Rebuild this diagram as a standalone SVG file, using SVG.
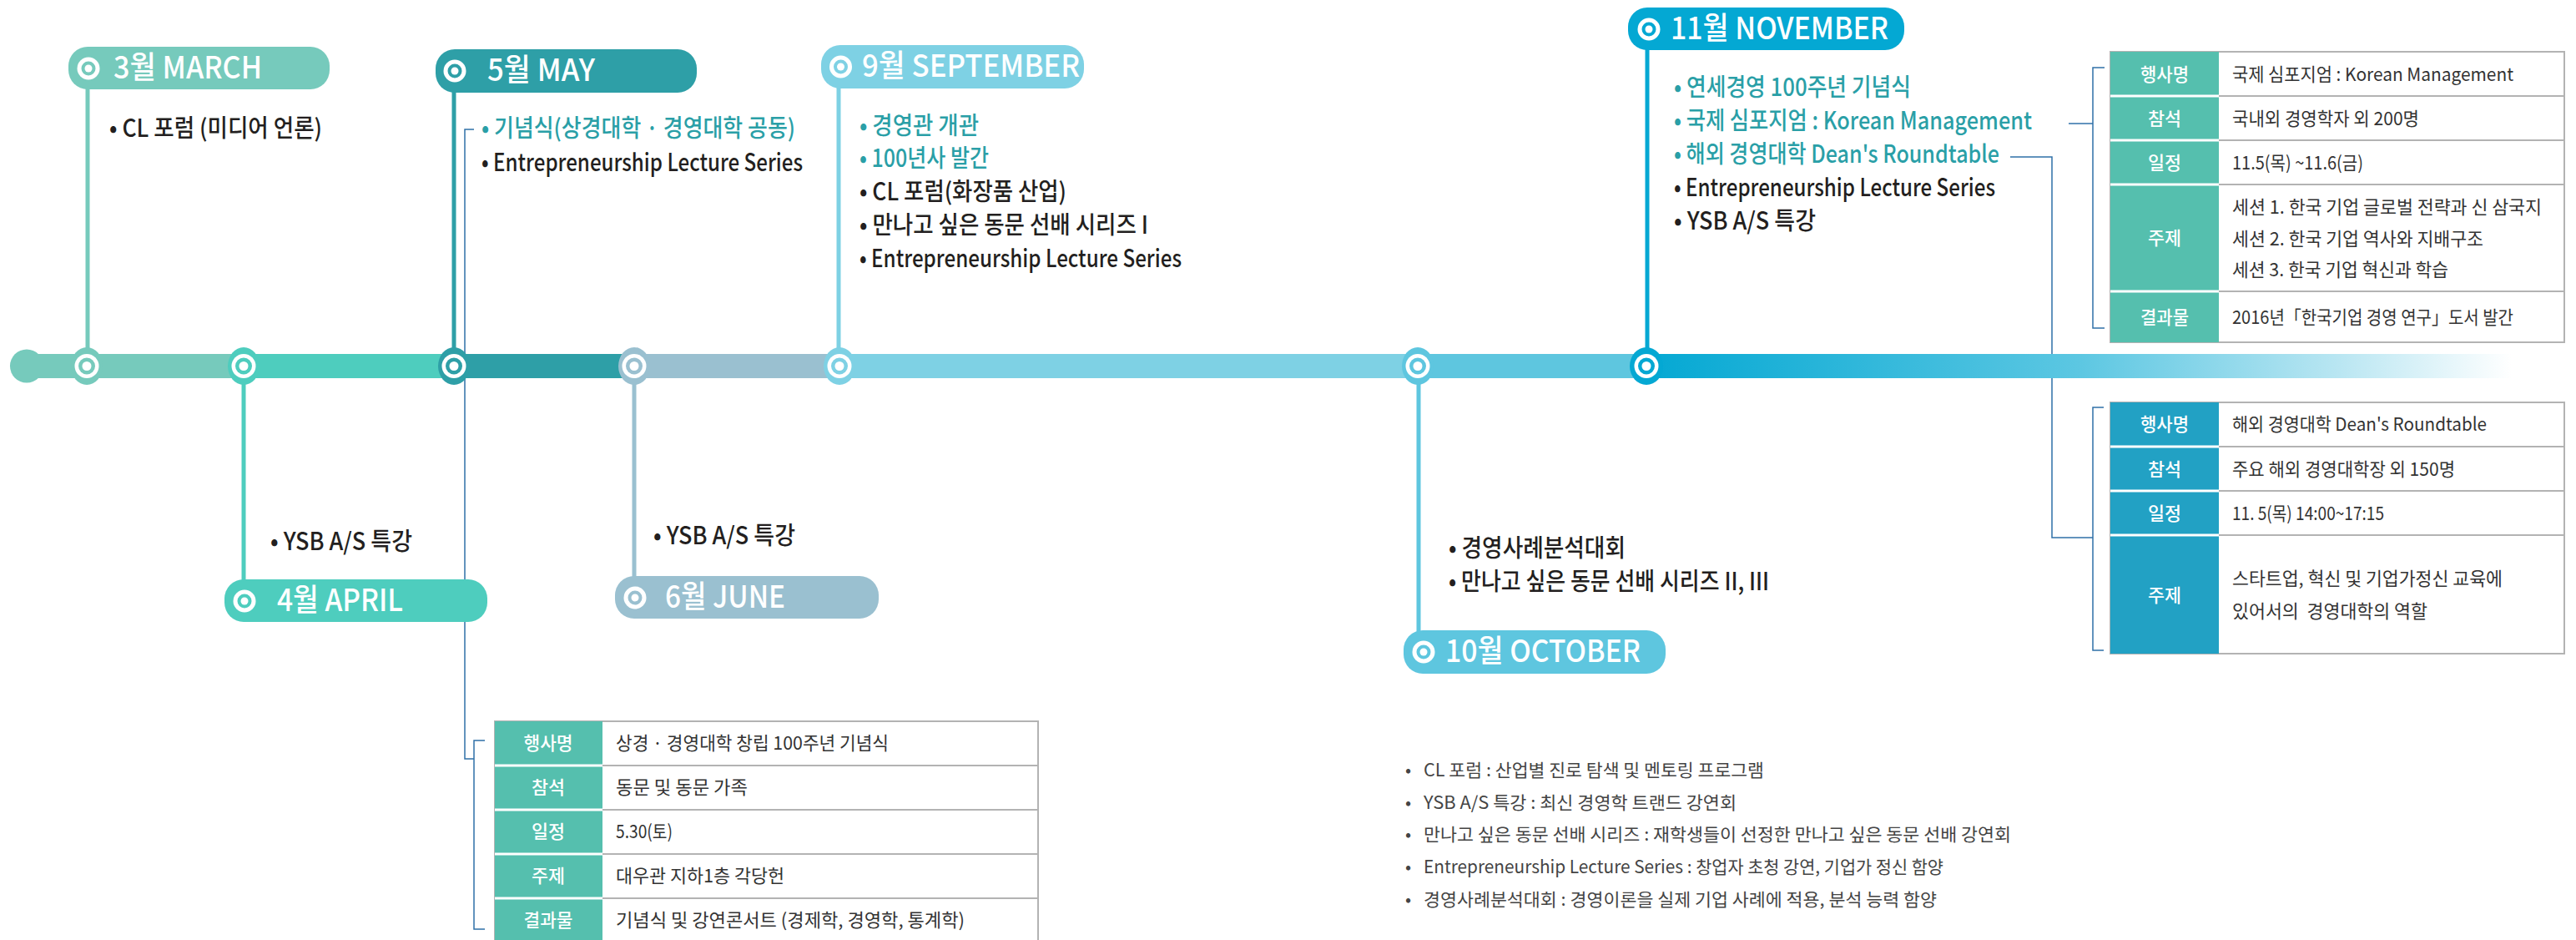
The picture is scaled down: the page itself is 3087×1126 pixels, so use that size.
<svg xmlns="http://www.w3.org/2000/svg" width="3087" height="1126" viewBox="0 0 3087 1126">
<defs>
<linearGradient id="gNov" gradientUnits="userSpaceOnUse" x1="1973" y1="0" x2="3010" y2="0">
<stop offset="0" stop-color="#04A8D3"/>
<stop offset="0.5" stop-color="#5CC7E2"/>
<stop offset="0.8" stop-color="#B9E6F2"/>
<stop offset="1" stop-color="#FFFFFF"/>
</linearGradient>
<style>
text{font-family:"Noto Sans CJK KR","Noto Sans",sans-serif}
.pt{fill:#fff;font-size:37px;font-weight:500}
.b{fill:#231F20;font-size:29px;font-weight:500}
.bt{fill:#2A9FA7}
.tl{fill:#fff;font-size:22px;font-weight:500;text-anchor:middle}
.tv{fill:#333;font-size:22px}
.lg{fill:#444;font-size:21px}
.cn{stroke:#2F70A8;stroke-width:1.5;fill:none}
.stem{stroke-width:5}
.tb{fill:#fff;stroke:#B3B3B3;stroke-width:2}
.sepw{stroke:#fff;stroke-width:3}
.sepg{stroke:#B3B3B3;stroke-width:2}
</style>
</defs>
<rect width="3087" height="1126" fill="#fff"/>

<g id="connectors">
<line class="stem" x1="105" y1="105" x2="105" y2="439" stroke="#76CABC"/>
<line class="stem" x1="292" y1="439" x2="292" y2="696" stroke="#4ECDBE"/>
<line class="stem" x1="544" y1="109" x2="544" y2="439" stroke="#2E9FA7"/>
<line class="stem" x1="760" y1="439" x2="760" y2="692" stroke="#9AC0D0"/>
<line class="stem" x1="1005" y1="104" x2="1005" y2="439" stroke="#7ED1E4"/>
<line class="stem" x1="1700" y1="439" x2="1700" y2="757" stroke="#5EC6DF"/>
<line class="stem" x1="1974" y1="58" x2="1974" y2="439" stroke="#04A8D3"/>
<polyline class="cn" points="568,155 557,155 557,909 568,909"/>
<polyline class="cn" points="581,887 568,887 568,1113 581,1113"/>
<polyline class="cn" points="2479,148 2508,148"/>
<polyline class="cn" points="2522,81 2508,81 2508,393 2522,393"/>
<polyline class="cn" points="2409,188 2459,188 2459,644 2508,644"/>
<polyline class="cn" points="2521,488 2508,488 2508,779 2521,779"/>
</g>

<g id="timeline">
<circle cx="32" cy="438.5" r="20" fill="#76CABC"/>
<rect x="32" y="424" width="260" height="29" fill="#76CABC"/>
<rect x="292" y="424" width="252" height="29" fill="#4ECDBE"/>
<rect x="544" y="424" width="216" height="29" fill="#2E9FA7"/>
<rect x="760" y="424" width="247" height="29" fill="#9AC0D0"/>
<rect x="1007" y="424" width="692" height="29" fill="#7ED1E4"/>
<rect x="1699" y="424" width="274" height="29" fill="#5EC6DF"/>
<rect x="1973" y="424" width="1114" height="29" fill="url(#gNov)"/>
</g>

<g id="march">
<rect x="82" y="56" width="313" height="51" rx="23" fill="#76CABC"/>
<circle cx="106" cy="82" r="13.5" fill="#fff"/><circle cx="106" cy="82" r="8.5" fill="#76CABC"/><circle cx="106" cy="82" r="4.5" fill="#fff"/>
<text class="pt" x="136" y="94" textLength="178" lengthAdjust="spacingAndGlyphs">3월 MARCH</text>
<ellipse cx="104" cy="438.5" rx="19" ry="22.5" fill="#76CABC"/><circle cx="104" cy="438.5" r="14.5" fill="#fff"/><circle cx="104" cy="438.5" r="10" fill="#76CABC"/><circle cx="104" cy="438.5" r="5.5" fill="#fff"/>
<text class="b" x="131" y="164" textLength="255" lengthAdjust="spacingAndGlyphs">• CL 포럼 (미디어 언론)</text>
</g>

<g id="april">
<rect x="269" y="694" width="315" height="51" rx="23" fill="#4ECDBE"/>
<circle cx="293" cy="720" r="13.5" fill="#fff"/><circle cx="293" cy="720" r="8.5" fill="#4ECDBE"/><circle cx="293" cy="720" r="4.5" fill="#fff"/>
<text class="pt" x="332" y="732" textLength="151" lengthAdjust="spacingAndGlyphs">4월 APRIL</text>
<ellipse cx="292" cy="438.5" rx="19" ry="22.5" fill="#4ECDBE"/><circle cx="292" cy="438.5" r="14.5" fill="#fff"/><circle cx="292" cy="438.5" r="10" fill="#4ECDBE"/><circle cx="292" cy="438.5" r="5.5" fill="#fff"/>
<text class="b" x="324" y="659" textLength="170" lengthAdjust="spacingAndGlyphs">• YSB A/S 특강</text>
</g>

<g id="may">
<rect x="522" y="59" width="313" height="52" rx="23" fill="#2E9FA7"/>
<circle cx="545" cy="85" r="13.5" fill="#fff"/><circle cx="545" cy="85" r="8.5" fill="#2E9FA7"/><circle cx="545" cy="85" r="4.5" fill="#fff"/>
<text class="pt" x="584" y="97" textLength="129" lengthAdjust="spacingAndGlyphs">5월 MAY</text>
<ellipse cx="544" cy="438.5" rx="19" ry="22.5" fill="#2E9FA7"/><circle cx="544" cy="438.5" r="14.5" fill="#fff"/><circle cx="544" cy="438.5" r="10" fill="#2E9FA7"/><circle cx="544" cy="438.5" r="5.5" fill="#fff"/>
<text class="b bt" x="577" y="164" textLength="376" lengthAdjust="spacingAndGlyphs">• 기념식(상경대학 · 경영대학 공동)</text>
<text class="b" x="577" y="205" textLength="385" lengthAdjust="spacingAndGlyphs">• Entrepreneurship Lecture Series</text>
</g>

<g id="june">
<rect x="737" y="690" width="316" height="51" rx="23" fill="#9AC0D0"/>
<circle cx="761" cy="716" r="13.5" fill="#fff"/><circle cx="761" cy="716" r="8.5" fill="#9AC0D0"/><circle cx="761" cy="716" r="4.5" fill="#fff"/>
<text class="pt" x="797" y="728" textLength="144" lengthAdjust="spacingAndGlyphs">6월 JUNE</text>
<ellipse cx="760" cy="438.5" rx="19" ry="22.5" fill="#9AC0D0"/><circle cx="760" cy="438.5" r="14.5" fill="#fff"/><circle cx="760" cy="438.5" r="10" fill="#9AC0D0"/><circle cx="760" cy="438.5" r="5.5" fill="#fff"/>
<text class="b" x="783" y="652" textLength="170" lengthAdjust="spacingAndGlyphs">• YSB A/S 특강</text>
</g>

<g id="september">
<rect x="984" y="54" width="315" height="52" rx="23" fill="#7ED1E4"/>
<circle cx="1007.5" cy="80" r="13.5" fill="#fff"/><circle cx="1007.5" cy="80" r="8.5" fill="#7ED1E4"/><circle cx="1007.5" cy="80" r="4.5" fill="#fff"/>
<text class="pt" x="1033" y="92" textLength="261" lengthAdjust="spacingAndGlyphs">9월 SEPTEMBER</text>
<ellipse cx="1006" cy="438.5" rx="19" ry="22.5" fill="#7ED1E4"/><circle cx="1006" cy="438.5" r="14.5" fill="#fff"/><circle cx="1006" cy="438.5" r="10" fill="#7ED1E4"/><circle cx="1006" cy="438.5" r="5.5" fill="#fff"/>
<text class="b bt" x="1030" y="161" textLength="143" lengthAdjust="spacingAndGlyphs">• 경영관 개관</text>
<text class="b bt" x="1030" y="200" textLength="155" lengthAdjust="spacingAndGlyphs">• 100년사 발간</text>
<text class="b" x="1030" y="240" textLength="248" lengthAdjust="spacingAndGlyphs">• CL 포럼(화장품 산업)</text>
<text class="b" x="1030" y="280" textLength="346" lengthAdjust="spacingAndGlyphs">• 만나고 싶은 동문 선배 시리즈 I</text>
<text class="b" x="1030" y="320" textLength="386" lengthAdjust="spacingAndGlyphs">• Entrepreneurship Lecture Series</text>
</g>

<g id="october">
<rect x="1682" y="755" width="314" height="52" rx="23" fill="#5EC6DF"/>
<circle cx="1706" cy="781" r="13.5" fill="#fff"/><circle cx="1706" cy="781" r="8.5" fill="#5EC6DF"/><circle cx="1706" cy="781" r="4.5" fill="#fff"/>
<text class="pt" x="1732" y="793" textLength="234" lengthAdjust="spacingAndGlyphs">10월 OCTOBER</text>
<ellipse cx="1699" cy="438.5" rx="19" ry="22.5" fill="#5EC6DF"/><circle cx="1699" cy="438.5" r="14.5" fill="#fff"/><circle cx="1699" cy="438.5" r="10" fill="#5EC6DF"/><circle cx="1699" cy="438.5" r="5.5" fill="#fff"/>
<text class="b" x="1736" y="667" textLength="212" lengthAdjust="spacingAndGlyphs">• 경영사례분석대회</text>
<text class="b" x="1736" y="707" textLength="384" lengthAdjust="spacingAndGlyphs">• 만나고 싶은 동문 선배 시리즈 II, III</text>
</g>

<g id="november">
<rect x="1951" y="9" width="331" height="51" rx="23" fill="#04A8D3"/>
<circle cx="1976" cy="35" r="13.5" fill="#fff"/><circle cx="1976" cy="35" r="8.5" fill="#04A8D3"/><circle cx="1976" cy="35" r="4.5" fill="#fff"/>
<text class="pt" x="2002" y="47" textLength="261" lengthAdjust="spacingAndGlyphs">11월 NOVEMBER</text>
<ellipse cx="1973" cy="438.5" rx="20" ry="22.5" fill="#04A8D3"/><circle cx="1973" cy="438.5" r="14.5" fill="#fff"/><circle cx="1973" cy="438.5" r="10" fill="#04A8D3"/><circle cx="1973" cy="438.5" r="5.5" fill="#fff"/>
<text class="b bt" x="2006" y="115" textLength="284" lengthAdjust="spacingAndGlyphs">• 연세경영 100주년 기념식</text>
<text class="b bt" x="2006" y="155" textLength="429" lengthAdjust="spacingAndGlyphs">• 국제 심포지엄 : Korean Management</text>
<text class="b bt" x="2006" y="195" textLength="390" lengthAdjust="spacingAndGlyphs">• 해외 경영대학 Dean's Roundtable</text>
<text class="b" x="2006" y="235" textLength="385" lengthAdjust="spacingAndGlyphs">• Entrepreneurship Lecture Series</text>
<text class="b" x="2006" y="275" textLength="170" lengthAdjust="spacingAndGlyphs">• YSB A/S 특강</text>
</g>

<g id="table-symposium">
<rect class="tb" x="2529" y="62" width="544" height="348"/>
<rect x="2529" y="62" width="130" height="348" fill="#55BFAE"/>
<line class="sepw" x1="2529" y1="115" x2="2659" y2="115"/><line class="sepw" x1="2529" y1="168" x2="2659" y2="168"/><line class="sepw" x1="2529" y1="221" x2="2659" y2="221"/><line class="sepw" x1="2529" y1="349" x2="2659" y2="349"/>
<line class="sepg" x1="2659" y1="115" x2="3073" y2="115"/><line class="sepg" x1="2659" y1="168" x2="3073" y2="168"/><line class="sepg" x1="2659" y1="221" x2="3073" y2="221"/><line class="sepg" x1="2659" y1="349" x2="3073" y2="349"/>
<text class="tl" x="2594" y="97" textLength="58" lengthAdjust="spacingAndGlyphs">행사명</text>
<text class="tl" x="2594" y="150" textLength="40" lengthAdjust="spacingAndGlyphs">참석</text>
<text class="tl" x="2594" y="203" textLength="40" lengthAdjust="spacingAndGlyphs">일정</text>
<text class="tl" x="2594" y="293" textLength="40" lengthAdjust="spacingAndGlyphs">주제</text>
<text class="tl" x="2594" y="388" textLength="58" lengthAdjust="spacingAndGlyphs">결과물</text>
<text class="tv" x="2675" y="97" textLength="337" lengthAdjust="spacingAndGlyphs">국제 심포지엄 : Korean Management</text>
<text class="tv" x="2675" y="150" textLength="224" lengthAdjust="spacingAndGlyphs">국내외 경영학자 외 200명</text>
<text class="tv" x="2675" y="203" textLength="157" lengthAdjust="spacingAndGlyphs">11.5(목) ~11.6(금)</text>
<text class="tv" x="2675" y="256" textLength="371" lengthAdjust="spacingAndGlyphs">세션 1. 한국 기업 글로벌 전략과 신 삼국지</text>
<text class="tv" x="2675" y="294" textLength="301" lengthAdjust="spacingAndGlyphs">세션 2. 한국 기업 역사와 지배구조</text>
<text class="tv" x="2675" y="331" textLength="259" lengthAdjust="spacingAndGlyphs">세션 3. 한국 기업 혁신과 학습</text>
<text class="tv" x="2675" y="388" textLength="337" lengthAdjust="spacingAndGlyphs">2016년「한국기업 경영 연구」도서 발간</text>
</g>

<g id="table-roundtable">
<rect class="tb" x="2529" y="482" width="544" height="301"/>
<rect x="2529" y="482" width="130" height="301" fill="#22A1C4"/>
<line class="sepw" x1="2529" y1="535" x2="2659" y2="535"/><line class="sepw" x1="2529" y1="588" x2="2659" y2="588"/><line class="sepw" x1="2529" y1="641" x2="2659" y2="641"/>
<line class="sepg" x1="2659" y1="535" x2="3073" y2="535"/><line class="sepg" x1="2659" y1="588" x2="3073" y2="588"/><line class="sepg" x1="2659" y1="641" x2="3073" y2="641"/>
<text class="tl" x="2594" y="516" textLength="58" lengthAdjust="spacingAndGlyphs">행사명</text>
<text class="tl" x="2594" y="570" textLength="40" lengthAdjust="spacingAndGlyphs">참석</text>
<text class="tl" x="2594" y="623" textLength="40" lengthAdjust="spacingAndGlyphs">일정</text>
<text class="tl" x="2594" y="721" textLength="40" lengthAdjust="spacingAndGlyphs">주제</text>
<text class="tv" x="2675" y="516" textLength="305" lengthAdjust="spacingAndGlyphs">해외 경영대학 Dean's Roundtable</text>
<text class="tv" x="2675" y="570" textLength="267" lengthAdjust="spacingAndGlyphs">주요 해외 경영대학장 외 150명</text>
<text class="tv" x="2675" y="623" textLength="182" lengthAdjust="spacingAndGlyphs">11. 5(목) 14:00~17:15</text>
<text class="tv" x="2675" y="701" textLength="324" lengthAdjust="spacingAndGlyphs">스타트업, 혁신 및 기업가정신 교육에</text>
<text class="tv" x="2675" y="740" textLength="234" lengthAdjust="spacingAndGlyphs" style="white-space:pre">있어서의  경영대학의 역할</text>
</g>

<g id="table-ceremony">
<rect class="tb" x="593" y="864" width="651" height="270"/>
<rect x="593" y="864" width="129" height="270" fill="#55BFAE"/>
<line class="sepw" x1="593" y1="917" x2="722" y2="917"/><line class="sepw" x1="593" y1="970" x2="722" y2="970"/><line class="sepw" x1="593" y1="1023" x2="722" y2="1023"/><line class="sepw" x1="593" y1="1076" x2="722" y2="1076"/>
<line class="sepg" x1="722" y1="917" x2="1244" y2="917"/><line class="sepg" x1="722" y1="970" x2="1244" y2="970"/><line class="sepg" x1="722" y1="1023" x2="1244" y2="1023"/><line class="sepg" x1="722" y1="1076" x2="1244" y2="1076"/>
<text class="tl" x="657" y="898" textLength="59" lengthAdjust="spacingAndGlyphs">행사명</text>
<text class="tl" x="657" y="951" textLength="40" lengthAdjust="spacingAndGlyphs">참석</text>
<text class="tl" x="657" y="1004" textLength="40" lengthAdjust="spacingAndGlyphs">일정</text>
<text class="tl" x="657" y="1057" textLength="40" lengthAdjust="spacingAndGlyphs">주제</text>
<text class="tl" x="657" y="1110" textLength="59" lengthAdjust="spacingAndGlyphs">결과물</text>
<text class="tv" x="738" y="898" textLength="327" lengthAdjust="spacingAndGlyphs">상경 · 경영대학 창립 100주년 기념식</text>
<text class="tv" x="738" y="951" textLength="158" lengthAdjust="spacingAndGlyphs">동문 및 동문 가족</text>
<text class="tv" x="738" y="1004" textLength="68" lengthAdjust="spacingAndGlyphs">5.30(토)</text>
<text class="tv" x="738" y="1057" textLength="202" lengthAdjust="spacingAndGlyphs">대우관 지하1층 각당헌</text>
<text class="tv" x="738" y="1110" textLength="418" lengthAdjust="spacingAndGlyphs">기념식 및 강연콘서트 (경제학, 경영학, 통계학)</text>
</g>

<g id="legend">
<text class="lg" x="1684" y="930">•</text>
<text class="lg" x="1706" y="930" textLength="408" lengthAdjust="spacingAndGlyphs">CL 포럼 : 산업별 진로 탐색 및 멘토링 프로그램</text>
<text class="lg" x="1684" y="969">•</text>
<text class="lg" x="1706" y="969" textLength="375" lengthAdjust="spacingAndGlyphs">YSB A/S 특강 : 최신 경영학 트랜드 강연회</text>
<text class="lg" x="1684" y="1007">•</text>
<text class="lg" x="1706" y="1007" textLength="704" lengthAdjust="spacingAndGlyphs">만나고 싶은 동문 선배 시리즈 : 재학생들이 선정한 만나고 싶은 동문 선배 강연회</text>
<text class="lg" x="1684" y="1046">•</text>
<text class="lg" x="1706" y="1046" textLength="623" lengthAdjust="spacingAndGlyphs">Entrepreneurship Lecture Series : 창업자 초청 강연, 기업가 정신 함양</text>
<text class="lg" x="1684" y="1085">•</text>
<text class="lg" x="1706" y="1085" textLength="615" lengthAdjust="spacingAndGlyphs">경영사례분석대회 : 경영이론을 실제 기업 사례에 적용, 분석 능력 함양</text>
</g>
</svg>
